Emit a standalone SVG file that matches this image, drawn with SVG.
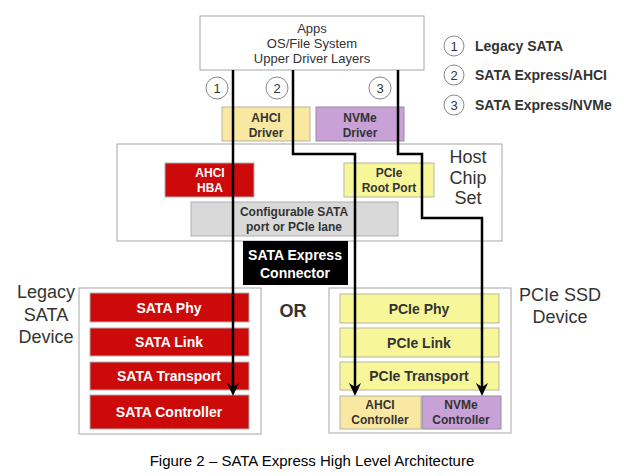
<svg xmlns="http://www.w3.org/2000/svg" width="624" height="476" viewBox="0 0 624 476">
<defs>
<path id="ah" d="M-6,-13 L0,0 L6,-13 L0,-9 Z" fill="#000"/>
<style>
text{font-family:"Liberation Sans",Arial,sans-serif;text-anchor:middle}
.frame{fill:#fff;stroke:#a6a6a6;stroke-width:1}
.b{font-weight:bold}
.w{fill:#fff}
.d{fill:#333}
.red{fill:#cc0a0a;stroke:#b0b0b0;stroke-width:1}
.yel{fill:#f7f79a;stroke:#b5b5a0;stroke-width:1}
.ahci{fill:#f9e8a2;stroke:#b5b5a0;stroke-width:1}
.nvme{fill:#c8a2d6;stroke:#9a8aa2;stroke-width:1}
.circ{fill:#fff;stroke:#888;stroke-width:1}
.wire{fill:none;stroke:#000;stroke-width:2.5}
.big{font-size:18px;fill:#333}
</style>
</defs>
<rect width="624" height="476" fill="#fff"/>

<g id="apps">
<rect class="frame" x="200" y="16" width="224" height="54"/>
<text x="312" y="33" font-size="13" class="d">Apps</text>
<text x="312" y="48" font-size="13" class="d">OS/File System</text>
<text x="312" y="63" font-size="13" class="d">Upper Driver Layers</text>
</g>

<g id="legend">
<circle class="circ" cx="454" cy="46" r="10"/>
<text x="454" y="51" font-size="13" class="d">1</text>
<text x="475" y="51" font-size="14" class="b d" style="text-anchor:start">Legacy SATA</text>
<circle class="circ" cx="454" cy="75" r="10"/>
<text x="454" y="80" font-size="13" class="d">2</text>
<text x="475" y="80" font-size="14" class="b d" style="text-anchor:start">SATA Express/AHCI</text>
<circle class="circ" cx="454" cy="105" r="10"/>
<text x="454" y="110" font-size="13" class="d">3</text>
<text x="475" y="110" font-size="14" class="b d" style="text-anchor:start">SATA Express/NVMe</text>
</g>

<g id="path-labels">
<circle class="circ" cx="217" cy="88" r="11"/>
<text x="217" y="93" font-size="13" class="d">1</text>
<circle class="circ" cx="277" cy="88" r="11"/>
<text x="277" y="93" font-size="13" class="d">2</text>
<circle class="circ" cx="380" cy="88" r="11"/>
<text x="380" y="93" font-size="13" class="d">3</text>
</g>

<g id="ahci-driver">
<rect class="ahci" x="222" y="107" width="88" height="34"/>
<text x="266" y="122" font-size="12" class="b d">AHCI</text>
<text x="266" y="137" font-size="12" class="b d">Driver</text>
</g>
<g id="nvme-driver">
<rect class="nvme" x="316" y="107" width="88" height="34"/>
<text x="360" y="122" font-size="12" class="b d">NVMe</text>
<text x="360" y="137" font-size="12" class="b d">Driver</text>
</g>

<g id="host-chip-set">
<rect class="frame" x="117" y="144" width="385" height="97"/>
<text x="468" y="163" class="big" font-size="17">Host</text>
<text x="468" y="184" class="big" font-size="17">Chip</text>
<text x="468" y="204" class="big" font-size="17">Set</text>
</g>
<g id="ahci-hba">
<rect class="red" x="165" y="163" width="89" height="34"/>
<text x="210" y="177" font-size="12" class="b w">AHCI</text>
<text x="210" y="192" font-size="12" class="b w">HBA</text>
</g>
<g id="pcie-root-port">
<rect class="yel" x="344" y="163" width="90" height="34"/>
<text x="389" y="177" font-size="12" class="b d">PCIe</text>
<text x="389" y="192" font-size="12" class="b d">Root Port</text>
</g>
<g id="configurable">
<rect x="191" y="202" width="207" height="34" fill="#d9d9d9" stroke="#b0b0b0"/>
<text x="294" y="216" font-size="12" class="b d">Configurable SATA</text>
<text x="294" y="231" font-size="12" class="b d">port or PCIe lane</text>
</g>
<g id="connector">
<rect x="243" y="241" width="105" height="44" fill="#000"/>
<text x="295" y="260" font-size="14" class="b w">SATA Express</text>
<text x="295" y="278" font-size="14" class="b w">Connector</text>
</g>

<text x="293" y="317" font-size="18" class="b d">OR</text>

<g id="legacy-sata-device">
<rect class="frame" x="79" y="288" width="182" height="146"/>
<text x="46" y="298" class="big">Legacy</text>
<text x="46" y="321" class="big">SATA</text>
<text x="46" y="343" class="big">Device</text>
<rect class="red" x="90" y="293" width="159" height="29"/>
<text x="169" y="313" font-size="14" class="b w">SATA Phy</text>
<rect class="red" x="90" y="328" width="159" height="28"/>
<text x="169" y="347" font-size="14" class="b w">SATA Link</text>
<rect class="red" x="90" y="362" width="159" height="28"/>
<text x="169" y="381" font-size="14" class="b w">SATA Transport</text>
<rect class="red" x="90" y="395" width="159" height="34"/>
<text x="169" y="417" font-size="14" class="b w">SATA Controller</text>
</g>

<g id="pcie-ssd-device">
<rect class="frame" x="329" y="288" width="182" height="145"/>
<text x="560" y="301" class="big">PCIe SSD</text>
<text x="560" y="323" class="big">Device</text>
<rect class="yel" x="340" y="294" width="159" height="29"/>
<text x="419" y="314" font-size="14" class="b d">PCIe Phy</text>
<rect class="yel" x="340" y="328" width="159" height="29"/>
<text x="419" y="348" font-size="14" class="b d">PCIe Link</text>
<rect class="yel" x="340" y="362" width="159" height="28"/>
<text x="419" y="381" font-size="14" class="b d">PCIe Transport</text>
<rect class="ahci" x="340" y="396" width="81" height="33"/>
<text x="380" y="409" font-size="12" class="b d">AHCI</text>
<text x="380" y="424" font-size="12" class="b d">Controller</text>
<rect class="nvme" x="422" y="396" width="79" height="33"/>
<text x="461" y="409" font-size="12" class="b d">NVMe</text>
<text x="461" y="424" font-size="12" class="b d">Controller</text>
</g>

<g id="connectors">
<path class="wire" d="M233,70 V389"/>
<path class="wire" d="M293,70 V154 H355 V389"/>
<path class="wire" d="M398,70 V154 H422 V218 H482 V389"/>
<use href="#ah" x="233" y="396"/>
<use href="#ah" x="355" y="396"/>
<use href="#ah" x="482" y="396"/>
</g>

<text x="312" y="466" font-size="15" fill="#000">Figure 2 – SATA Express High Level Architecture</text>
</svg>
